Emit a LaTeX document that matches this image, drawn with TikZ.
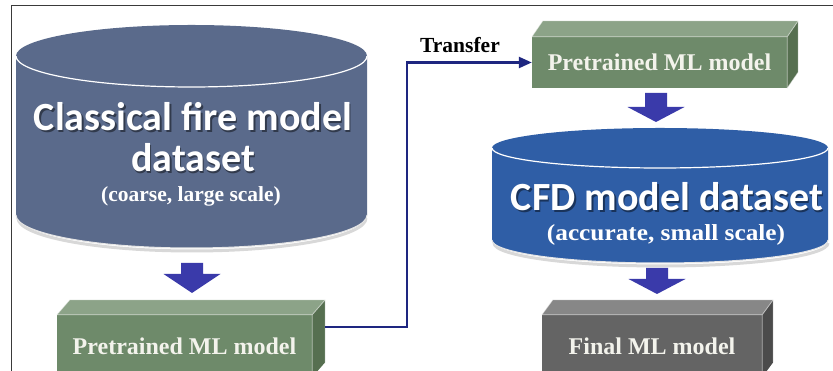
\documentclass[tikz,border=0pt]{standalone}
\usepackage{fontspec}
\setmainfont{Liberation Serif}
\newfontfamily\calib{Carlito}
\usetikzlibrary{arrows.meta,calc}
\definecolor{cylA}{HTML}{5A6A8B}
\definecolor{cylB}{HTML}{2F5EA6}
\definecolor{gfront}{HTML}{6E8A6A}
\definecolor{gtop}{HTML}{8CA388}
\definecolor{gside}{HTML}{566F50}
\definecolor{kfront}{HTML}{646464}
\definecolor{ktop}{HTML}{878787}
\definecolor{kside}{HTML}{4B4B4B}
\definecolor{arrowcol}{HTML}{3A3AAA}
\definecolor{conncol}{HTML}{1E2680}
\definecolor{framecol}{HTML}{3A3A3A}
\definecolor{boxtxt}{HTML}{F3F3EC}
\newcommand\mydarrow[4]{\fill[arrowcol] (#1-11,#2) -- (#1+11,#2) -- (#1+11,#3) -- (#1+28.5,#3) -- (#1,#4) -- (#1-28.5,#3) -- (#1-11,#3) -- cycle;}
\tikzset{
  boxbase/.style={inner sep=0pt, text=boxtxt, font=\bfseries\fontsize{24}{24}\selectfont},
  gbox/.style={boxbase, fill=gfront},
  kbox/.style={boxbase, fill=kfront},
  edgeline/.style={white, opacity=0.55, line width=0.8pt},
  bigtxt/.style={text=white, font=\calib\bfseries\fontsize{40}{41}\selectfont, inner sep=0pt},
  bigshadow/.style={text=black, opacity=0.45, font=\calib\bfseries\fontsize{40}{41}\selectfont, inner sep=0pt},
  subtxt/.style={text=white, font=\bfseries\fontsize{21.5}{22}\selectfont, inner sep=0pt},
  conn/.style={conncol, line width=2.4pt, -{Triangle[length=13pt,width=11pt]}},
}
\begin{document}
\begin{tikzpicture}[x=1pt,y=1pt]
\useasboundingbox (0,0) rectangle (833,371);
\clip (0,0) rectangle (833,371);
\fill[white] (0,0) rectangle (833,371);
\draw[framecol, line width=1pt] (11,-2) -- (11,365) -- (835,365);

% ---- left cylinder
\draw[black!25, line width=3pt, opacity=.6] (18,153) arc[start angle=180,end angle=360,x radius=174pt,y radius=33pt];
\fill[cylA] (16,315) -- (16,156) arc[start angle=180,end angle=360,x radius=175.5pt,y radius=33pt] -- (367,315) arc[start angle=0,end angle=180,x radius=175.5pt,y radius=31pt] -- cycle;
\draw[white!80!gray, line width=1pt] (16,156) arc[start angle=180,end angle=360,x radius=175.5pt,y radius=33pt];
\draw[white, line width=1.2pt] (16,315) arc[start angle=180,end angle=360,x radius=175.5pt,y radius=31pt];
\node[bigshadow] (cfm1s) at (194.5,252.5) {Classical fire model};
\node[bigtxt] (cfm1) at (193,254) {Classical fire model};
\node[bigshadow] (cfm2s) at (194.5,211.5) {dataset};
\node[bigtxt] (cfm2) at (193,213) {dataset};
\node[subtxt] (cfm3) at (191,175) {(coarse, large scale)};

% ---- CFD cylinder
\draw[black!25, line width=3pt, opacity=.6] (494,128) arc[start angle=180,end angle=360,x radius=167pt,y radius=23pt];
\fill[cylB] (492,223) -- (492,131) arc[start angle=180,end angle=360,x radius=168pt,y radius=23pt] -- (828,223) arc[start angle=0,end angle=180,x radius=168pt,y radius=20pt] -- cycle;
\draw[white!80!gray, line width=1pt] (492,131) arc[start angle=180,end angle=360,x radius=168pt,y radius=23pt];
\draw[white, line width=1.2pt] (492,223) arc[start angle=180,end angle=360,x radius=168pt,y radius=20pt];
\node[bigshadow] (cfd1s) at (668.5,172.5) {CFD model dataset};
\node[bigtxt] (cfd1) at (667,174) {CFD model dataset};
\node[subtxt] (cfd2) at (666,136) {\scalebox{1.1}[1]{\fontsize{23}{24}\selectfont(accurate, small scale)}};

% ---- boxes
\node[gbox, minimum width=255pt, minimum height=62pt] (pre1) at (184.5,25) {Pretrained ML model};
\fill[gtop] (pre1.north west) -- ++(13,15) -- ($(pre1.north east)+(13,15)$) -- (pre1.north east) -- cycle;
\fill[gside] (pre1.north east) -- ++(13,15) -- ($(pre1.south east)+(13,15)$) -- (pre1.south east) -- cycle;
\draw[edgeline] (pre1.north west) -- ++(13,15) -- ($(pre1.north east)+(13,15)$) -- ($(pre1.south east)+(13,15)$);
\draw[edgeline] (pre1.north west) -- (pre1.north east) -- ++(13,15) (pre1.north east) -- (pre1.south east);

\node[gbox, minimum width=255pt, minimum height=51pt] (pre2) at (659.5,308.5) {Pretrained ML model};
\fill[gtop] (pre2.north west) -- ++(11,16) -- ($(pre2.north east)+(11,16)$) -- (pre2.north east) -- cycle;
\fill[gside] (pre2.north east) -- ++(11,16) -- ($(pre2.south east)+(11,16)$) -- (pre2.south east) -- cycle;
\draw[edgeline] (pre2.north west) -- ++(11,16) -- ($(pre2.north east)+(11,16)$) -- ($(pre2.south east)+(11,16)$) -- (pre2.south east);
\draw[edgeline] (pre2.north west) -- (pre2.north east) -- ++(11,16) (pre2.north east) -- (pre2.south east);

\node[kbox, minimum width=220pt, minimum height=62pt] (fin) at (652,25) {Final ML model};
\fill[ktop] (fin.north west) -- ++(11,15) -- ($(fin.north east)+(11,15)$) -- (fin.north east) -- cycle;
\fill[kside] (fin.north east) -- ++(11,15) -- ($(fin.south east)+(11,15)$) -- (fin.south east) -- cycle;
\draw[edgeline] (fin.north west) -- ++(11,15) -- ($(fin.north east)+(11,15)$) -- ($(fin.south east)+(11,15)$);
\draw[edgeline] (fin.north west) -- (fin.north east) -- ++(11,15) (fin.north east) -- (fin.south east);

% ---- block arrows
\mydarrow{192}{108}{97}{78}
\mydarrow{656}{278}{264}{249}
\mydarrow{657}{103}{92}{77}

% ---- transfer connector
\coordinate (c0) at ($(pre1.east)+(13,19)$);
\coordinate (bend) at (407,44);
\draw[conn] (c0) -- (bend) |- (pre2.west);
\node[font=\bfseries\fontsize{21.5}{22}\selectfont, inner sep=0pt] (tr) at (460,326) {Transfer};
\end{tikzpicture}
\end{document}
